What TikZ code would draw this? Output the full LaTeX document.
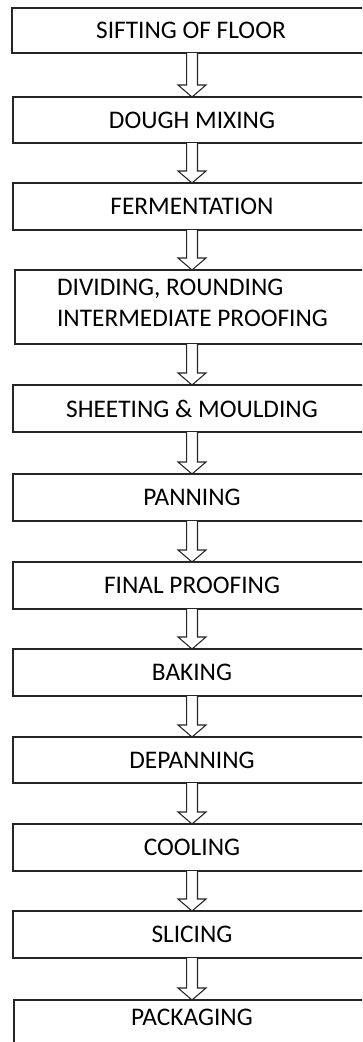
\documentclass[tikz,border=0pt]{standalone}
\usepackage{fontspec}
\setmainfont{Carlito}
\usetikzlibrary{calc}

\tikzset{
  stepbox/.style={draw=black!85, line width=0.9pt, fill=white, inner sep=0pt, outer sep=0pt,
    anchor=north west, font=\fontsize{19pt}{23.5pt}\selectfont, text=black,
    minimum width={358*0.75pt}},
  arrowline/.style={draw=black!85, line width=0.8pt, line join=miter, fill=white},
}

% hollow block arrow from the bottom of one box to the top of the next
\newcommand\flowarrow[2]{%
  \draw[arrowline] let \p1=(#1.south), \p2=(#2.north) in
    (144pt-4.1pt,\y1) -- (144pt-4.1pt,\y2+9pt) -- (144pt-10.5pt,\y2+9pt) -- (144pt,\y2)
    -- (144pt+10.5pt,\y2+9pt) -- (144pt+4.1pt,\y2+9pt) -- (144pt+4.1pt,\y1);}

\begin{document}
\begin{tikzpicture}[x=0.75pt, y=-0.75pt]
  \useasboundingbox (0,0) rectangle (362,1042);
  \clip (0,0) rectangle (362,1042);

  \node[stepbox, minimum height={45*0.75pt}] (s1) at (12,8) {SIFTING OF FLOOR};
  \node[stepbox, minimum height={46*0.75pt}] (s2) at (13,97) {DOUGH MIXING};
  \node[stepbox, minimum height={47*0.75pt}] (s3) at (13,183) {FERMENTATION};
  \node[stepbox, minimum height={74*0.75pt}, align=left, text depth=6pt, minimum width={355*0.75pt}] (s4) at (15,270)
    {DIVIDING, ROUNDING\\INTERMEDIATE PROOFING};
  \node[stepbox, minimum height={47*0.75pt}] (s5) at (13,385) {SHEETING \& MOULDING};
  \node[stepbox, minimum height={47*0.75pt}] (s6) at (13,474) {PANNING};
  \node[stepbox, minimum height={47*0.75pt}] (s7) at (13,562) {FINAL PROOFING};
  \node[stepbox, minimum height={47*0.75pt}] (s8) at (13,649) {BAKING};
  \node[stepbox, minimum height={46*0.75pt}] (s9) at (13,737) {DEPANNING};
  \node[stepbox, minimum height={47*0.75pt}] (s10) at (13,824) {COOLING};
  \node[stepbox, minimum height={47*0.75pt}] (s11) at (13,911) {SLICING};
  \node[stepbox, minimum height={60*0.75pt}, text depth=25*0.75pt, minimum width={356*0.75pt}] (s12) at (14,1000) {PACKAGING};

  \flowarrow{s1}{s2}
  \flowarrow{s2}{s3}
  \flowarrow{s3}{s4}
  \flowarrow{s4}{s5}
  \flowarrow{s5}{s6}
  \flowarrow{s6}{s7}
  \flowarrow{s7}{s8}
  \flowarrow{s8}{s9}
  \flowarrow{s9}{s10}
  \flowarrow{s10}{s11}
  \flowarrow{s11}{s12}
\end{tikzpicture}
\end{document}
